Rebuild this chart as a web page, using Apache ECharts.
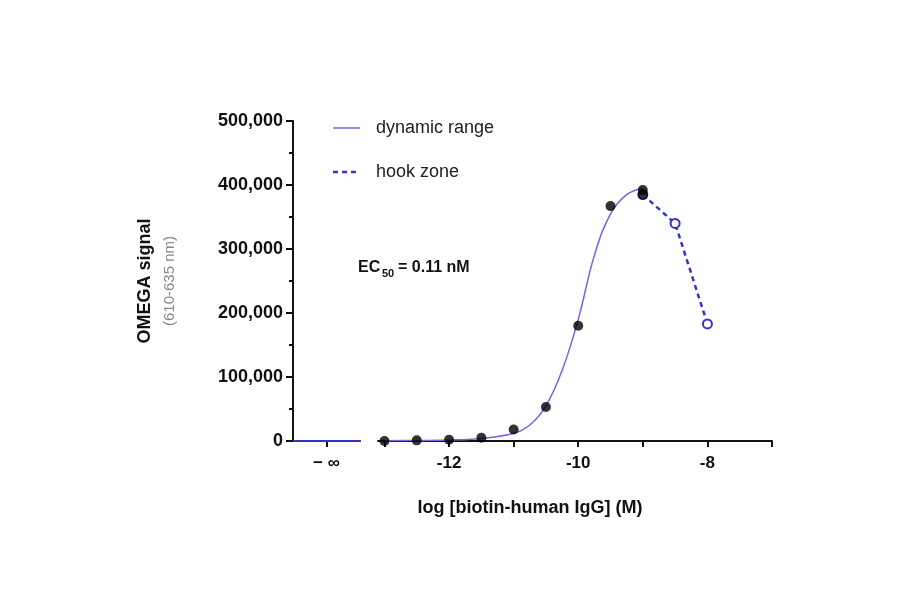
<!DOCTYPE html>
<html><head><meta charset="utf-8">
<script src="https://cdn.jsdelivr.net/npm/echarts@6/dist/echarts.min.js"></script>
<style>html,body{margin:0;background:#fff}#c{width:900px;height:594px}</style>
</head><body><div id="c"></div>
<script>
// measured points (log M, signal)
var doseX = [-13, -12.5, -12, -11.5, -11, -10.5, -10, -9.5, -9, -9];
var doseY = [0, 1000, 2000, 5000, 18000, 53000, 180000, 367000, 392000, 385000];
// fitted curve
var fitX = [-13, -12.5, -12, -11.5, -11, -10.75, -10.5, -10.25, -10, -9.75, -9.5, -9.25, -9];
var fitY = [500, 800, 1500, 4000, 12000, 25000, 55000, 110000, 190000, 290000, 355000, 385000, 395000];
// hook zone
var hookX = [-9, -8.5, -8];
var hookY = [385000, 340000, 183000];
var xTicks = [-13, -12, -11, -10, -9, -8, -7];
var xLabels = [-12, -10, -8];

var blue = '#5a5ad6', dark = '#3333cc';
var font = 'Liberation Sans';
function zip(a, b) { return a.map(function (v, i) { return [v, b[i]]; }); }

var chart = echarts.init(document.getElementById('c'));
chart.setOption({
  animation: false,
  textStyle: {fontFamily: font},
  grid: [
    {left: 293, top: 121, width: 67, height: 320},
    {left: 378, top: 121, width: 394, height: 320}
  ],
  xAxis: [
    {gridIndex: 0, type: 'value', min: 0, max: 2,
      axisLine: {lineStyle: {color: '#111', width: 2}},
      axisTick: {customValues: [1], length: 6, lineStyle: {width: 2}},
      axisLabel: {customValues: [1], formatter: function () { return '− ∞'; }, color: '#111', fontSize: 17, fontWeight: 'bold', margin: 14},
      splitLine: {show: false}},
    {gridIndex: 1, type: 'value', min: -13.1, max: -7,
      axisLine: {lineStyle: {color: '#111', width: 2}},
      axisTick: {customValues: xTicks, length: 6, lineStyle: {width: 2}},
      axisLabel: {customValues: xLabels, color: '#111', fontSize: 17, fontWeight: 'bold', margin: 14},
      splitLine: {show: false}}
  ],
  yAxis: [
    {gridIndex: 0, type: 'value', min: 0, max: 500000, interval: 100000,
      axisLine: {show: true, lineStyle: {color: '#111', width: 2}},
      axisTick: {length: 7, lineStyle: {width: 2}},
      minorTick: {show: true, splitNumber: 2, length: 4, lineStyle: {color: '#111', width: 2}},
      axisLabel: {color: '#111', fontSize: 18, fontWeight: 'bold', margin: 10,
        formatter: function (v) { return v.toLocaleString('en-US'); }},
      splitLine: {show: false}},
    {gridIndex: 1, type: 'value', min: 0, max: 500000, show: false}
  ],
  series: [
    {type: 'line', xAxisIndex: 0, yAxisIndex: 0, data: [[0, 0], [2, 0]], symbol: 'none',
      lineStyle: {color: dark, width: 2}},
    {type: 'line', xAxisIndex: 1, yAxisIndex: 1, data: zip(fitX, fitY), smooth: 0.4, symbol: 'none',
      lineStyle: {color: '#6b6bdc', width: 1.5}},
    {type: 'line', xAxisIndex: 1, yAxisIndex: 1, data: zip(hookX, hookY), symbol: 'circle', symbolSize: 9,
      lineStyle: {color: dark, width: 2.5, type: [5, 4]},
      itemStyle: {color: '#fff', borderColor: dark, borderWidth: 2}},
    {type: 'scatter', xAxisIndex: 1, yAxisIndex: 1, data: zip(doseX, doseY), symbolSize: 10,
      itemStyle: {color: '#000'}, z: 5}
  ],
  graphic: [
    {type: 'text', rotation: Math.PI / 2, x: 136, y: 281,
      style: {text: 'OMEGA signal', font: 'bold 18px ' + font, fill: '#111', align: 'center', verticalAlign: 'top'}},
    {type: 'text', rotation: Math.PI / 2, x: 162, y: 281,
      style: {text: '(610-635 nm)', font: '15px ' + font, fill: '#888', align: 'center', verticalAlign: 'top'}},
    {type: 'text', x: 530, y: 508,
      style: {text: 'log [biotin-human IgG] (M)', font: 'bold 18px ' + font, fill: '#111', align: 'center', verticalAlign: 'middle'}},
    {type: 'text', x: 358, y: 260,
      style: {text: 'EC', font: 'bold 16px ' + font, fill: '#111'}},
    {type: 'text', x: 382, y: 268,
      style: {text: '50', font: 'bold 11px ' + font, fill: '#111'}},
    {type: 'text', x: 398, y: 260,
      style: {text: '= 0.11 nM', font: 'bold 16px ' + font, fill: '#111'}},
    {type: 'line', shape: {x1: 333, y1: 128, x2: 360, y2: 128}, style: {stroke: '#6b6bdc', lineWidth: 1.5}},
    {type: 'text', x: 376, y: 128,
      style: {text: 'dynamic range', font: '18px ' + font, fill: '#222', verticalAlign: 'middle'}},
    {type: 'line', shape: {x1: 333, y1: 172, x2: 360, y2: 172}, style: {stroke: dark, lineWidth: 2.5, lineDash: [5, 4]}},
    {type: 'text', x: 376, y: 172,
      style: {text: 'hook zone', font: '18px ' + font, fill: '#222', verticalAlign: 'middle'}}
  ]
});
</script></body></html>
